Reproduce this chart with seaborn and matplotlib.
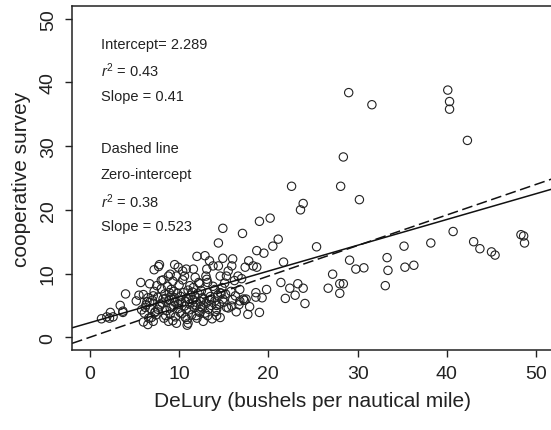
import numpy as np
import pandas as pd
import seaborn as sns
import matplotlib
matplotlib.use("Agg")
import matplotlib.pyplot as plt

# DeLury vs cooperative survey
delury = [
    29.0, 31.6, 40.1, 40.3, 40.3, 42.3, 28.4, 28.1, 22.6, 30.2, 23.9, 23.6,
    20.2, 19.0, 14.9, 17.1, 21.1, 14.4, 20.5, 25.4, 18.7, 19.5, 40.7, 38.2,
    35.2, 43.0, 43.7, 45.0, 45.4, 48.3, 48.6, 48.7, 33.3, 33.4, 33.1, 35.3,
    36.3, 29.1, 29.8, 30.7, 27.2, 28.0, 28.4, 28.0, 26.7, 21.7, 21.4, 22.4,
    23.3, 23.9, 21.9, 23.0, 24.1, 19.8, 19.3, 18.6, 18.6, 19.0, 17.7, 17.9,
    17.3,
    1.3, 1.9, 2.3, 2.6, 2.2, 3.4, 3.7, 3.7, 4.0, 5.7, 5.2, 5.5, 6.0, 6.2,
    6.0, 6.5, 6.7, 7.2, 7.7, 7.8, 8.0, 6.7, 7.1, 7.3, 6.9, 7.6, 8.2, 8.5,
    8.8, 9.0, 9.5, 9.9, 9.7, 9.3, 9.1, 9.5, 9.9, 10.1, 10.4, 10.6, 10.8,
    10.9, 11.2, 11.6, 11.8, 12.0, 12.2, 12.9, 13.1, 13.0, 13.2, 13.4, 13.8,
    14.0, 13.6, 14.2, 13.2, 14.2, 11.9, 12.3, 14.4, 14.9, 14.6, 15.3, 15.5,
    15.9, 16.0, 16.2, 16.6, 16.8, 17.2, 15.9, 15.3, 14.9, 14.6, 17.4, 17.8,
    18.3, 18.7, 16.8, 17.5,
    6.3, 6.5, 6.8, 7.0, 7.2, 7.4, 7.6, 7.8, 8.0, 8.1, 8.3, 8.4, 8.6, 8.7,
    8.9, 9.0, 9.1, 9.2, 9.4, 9.5, 9.6, 9.8, 9.9, 10.0, 10.1, 10.2, 10.3,
    10.5, 10.6, 10.7, 10.8, 10.9, 11.0, 11.1, 11.2, 11.3, 11.4, 11.5, 11.6,
    11.7, 11.8, 11.9, 12.0, 12.1, 12.2, 12.4, 12.5, 12.6, 12.8, 12.9, 13.0,
    13.2, 13.3, 13.5, 13.6, 13.8, 14.0, 14.1, 14.3, 14.5, 14.8, 15.0, 15.2,
    15.5, 15.8, 16.0, 16.3, 16.7,
    5.8, 6.1, 6.6, 7.1, 7.5, 8.2, 8.8, 9.3, 10.4, 11.0, 12.3, 13.1, 13.7,
    14.6, 15.1, 16.4, 17.0, 12.7, 9.7, 10.7,
    6.4, 7.9, 8.5, 9.4, 10.3, 11.1, 11.9, 12.6, 13.4, 14.2, 7.3, 9.0, 10.8,
    12.4, 14.7, 8.9, 11.5,
]
coop = [
    38.4, 36.5, 38.8, 37.0, 35.8, 30.9, 28.3, 23.7, 23.7, 21.6, 21.0, 20.0,
    18.7, 18.2, 17.1, 16.3, 15.4, 14.8, 14.3, 14.2, 13.6, 13.2, 16.6, 14.8,
    14.3, 15.0, 13.9, 13.4, 12.9, 16.1, 15.9, 14.8, 12.5, 10.5, 8.1, 11.0,
    11.3, 12.1, 10.7, 10.9, 9.9, 8.4, 8.4, 6.9, 7.7, 11.8, 8.6, 7.7,
    8.4, 7.7, 6.1, 6.6, 5.3, 7.5, 6.2, 7.0, 6.3, 3.9, 3.6, 4.8,
    5.8,
    2.9, 3.2, 3.9, 3.2, 3.0, 5.0, 4.1, 3.9, 6.8, 8.6, 5.7, 6.6, 6.7, 4.7,
    2.4, 2.0, 8.4, 10.6, 11.1, 11.4, 8.9, 5.5, 6.5, 3.9, 3.1, 4.4, 6.0, 3.4,
    9.6, 9.9, 11.4, 11.0, 9.6, 2.6, 7.5, 6.2, 5.2, 3.9, 10.4, 9.6, 10.7,
    1.9, 8.1, 10.7, 9.4, 12.7, 8.6, 12.8, 10.7, 9.6, 8.6, 12.0, 11.2,
    7.5, 6.0, 4.4, 3.4, 3.4, 3.4, 3.9, 11.2, 12.4, 9.6, 9.6, 10.4,
    11.2, 12.3, 8.9, 9.6, 7.5, 6.0, 4.9, 4.7, 6.0, 7.0, 11.0, 12.0,
    11.2, 11.0, 5.7, 6.0,
    5.1, 6.2, 4.5, 5.8, 7.2, 3.5, 6.3, 4.9, 7.6, 5.4, 3.0, 6.8, 4.2, 8.0,
    5.9, 3.6, 6.5, 4.8, 7.2, 5.5, 3.2, 6.9, 4.5, 8.2, 5.8, 6.4, 3.7,
    7.0, 4.9, 5.6, 6.1, 2.8, 7.4, 4.3, 5.2, 6.6, 3.5, 5.9, 7.8,
    4.7, 6.3, 5.0, 3.0, 6.9, 4.1, 5.6, 7.3, 4.6, 6.0, 3.8, 5.3,
    7.0, 4.4, 6.4, 5.0, 8.0, 5.7, 4.0, 6.6, 5.2, 7.8, 5.5, 6.8,
    4.6, 7.2, 5.9, 6.5, 5.1,
    4.3, 3.8, 3.0, 2.5, 8.1, 9.0, 2.5, 8.8, 9.0, 2.2, 8.4, 9.1, 2.9,
    3.1, 8.5, 4.0, 9.2, 2.5, 2.2, 3.1,
    5.6, 5.2, 6.1, 5.0, 5.4, 6.0, 5.5, 6.2, 5.8, 5.0, 4.0, 4.6, 4.4,
    4.8, 6.9, 7.0, 7.1,
]

# fitted lines (solid: intercept/slope; dashed: through origin, slope as drawn)
intercept = 2.289
slope = 0.405
dashed_slope = 0.48

df = pd.DataFrame({"delury": delury, "coop": coop})

sns.set_style("white")
plt.rcParams["font.family"] = ["Liberation Sans", "DejaVu Sans"]
plt.rcParams["mathtext.fontset"] = "custom"
plt.rcParams["mathtext.rm"] = "Liberation Sans"
plt.rcParams["mathtext.it"] = "Liberation Sans:italic"

fig = plt.figure(figsize=(5.51, 4.31), dpi=100)
ax = fig.add_axes([0.1307, 0.1856, 0.8747, 0.7982])

sns.scatterplot(data=df, x="delury", y="coop", ax=ax, marker="o", s=36,
                facecolor="none", edgecolor="#222222", linewidth=0.8)

ax.axline((0, intercept), slope=slope, color="#111111", lw=1.1)
ax.axline((0, 0), slope=dashed_slope, color="#111111", lw=1.1, ls=(0, (7, 3)))

ax.set_xlim(-2, 52)
ax.set_ylim(-2, 52)
ax.set_xticks(range(0, 51, 10))
ax.set_yticks(range(0, 51, 10))
ax.tick_params(axis="both", direction="out", length=5, width=1, labelsize=14,
               color="#222222", labelcolor="#222222", pad=6,
               bottom=True, left=True)
for lab in ax.get_yticklabels():
    lab.set_rotation(90)
    lab.set_va("center")
for side in ["left", "bottom", "top", "right"]:
    ax.spines[side].set_linewidth(1.1)
    ax.spines[side].set_color("#222222")

ax.set_xlabel("DeLury (bushels per nautical mile)", fontsize=15, color="#222222", labelpad=6)
ax.set_ylabel("cooperative survey", fontsize=15, color="#222222", labelpad=6)

notes = ["Intercept= 2.289", "$r^2$ = 0.43", "Slope = 0.41",
         "Dashed line", "Zero-intercept", "$r^2$ = 0.38", "Slope = 0.523"]
note_y = [46.1, 42.0, 37.9, 29.7, 25.6, 21.5, 17.4]
for t, yy in zip(notes, note_y):
    ax.text(1.2, yy, t, fontsize=10.5, va="center", ha="left", color="#222222")

fig.savefig("out.png", dpi=100)
